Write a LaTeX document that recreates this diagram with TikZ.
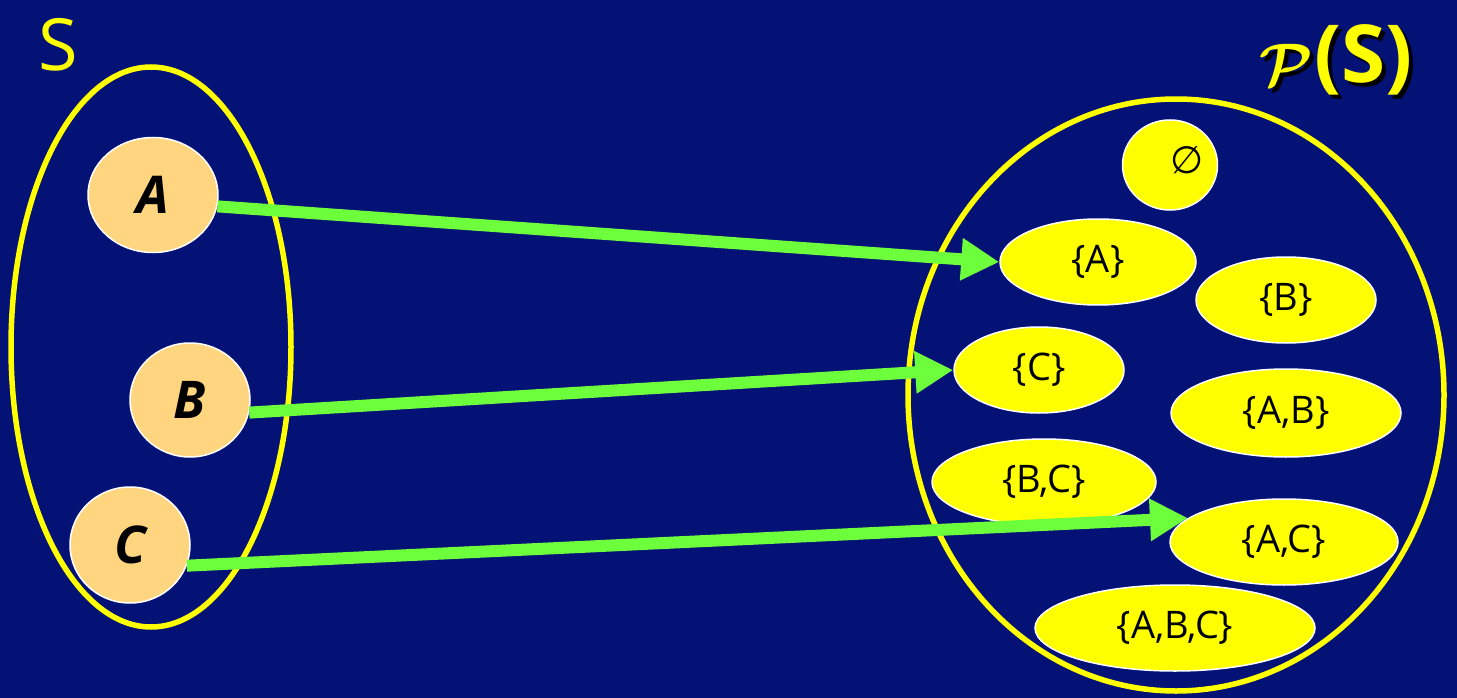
\documentclass[tikz,border=0pt]{standalone}
\usepackage{amsmath}
\usepackage{graphicx}
\usepackage{fontspec}
\newfontfamily\comic{Open Sans}
\newfontfamily\dejavu{DejaVu Sans}
\usetikzlibrary{shapes.geometric,arrows.meta}
\definecolor{bg}{RGB}{4,18,118}
\definecolor{ylw}{RGB}{255,255,0}
\definecolor{elemfill}{RGB}{255,213,128}
\definecolor{grn}{RGB}{110,255,60}
\newcommand{\powset}{\raisebox{-3pt}{\scalebox{6}{$\boldsymbol{\mathcal{P}}$}}\kern1pt{\comic\bfseries\fontsize{80}{84}\selectfont(S)}}
\begin{document}
\begin{tikzpicture}[x=1pt,y=-1pt,
  outer/.style={ellipse, draw=ylw, line width=5.5pt, inner sep=0pt},
  elem/.style={ellipse, draw=white, line width=1.5pt, fill=elemfill, inner sep=0pt,
    font=\comic\fontsize{52}{56}\selectfont\bfseries\itshape},
  subset/.style={ellipse, draw=white, line width=1.5pt, fill=ylw, inner sep=0pt,
    font=\comic\fontsize{38}{40}\selectfont},
  mapsto/.style={draw=grn, line width=12pt, -{Triangle[length=38pt,width=40pt]}},
  label/.style={text=ylw, inner sep=0pt}]
\fill[bg] (0,0) rectangle (1457,698);
\useasboundingbox (0,0) rectangle (1457,698);

% labels
\node[label, font=\comic\fontsize{72}{74}\selectfont] (Slabel) at (58,45) {S};
\node[text=black, inner sep=0pt] (PSshadow) at (1340,64) {\powset};
\node[label] (PS) at (1336,60) {\powset};

% sets
\node[outer, minimum width=280pt, minimum height=560pt] (Sset) at (151,347) {};
\node[outer, minimum width=536pt, minimum height=592pt] (Pset) at (1176,395) {};

% elements
\node[elem, minimum width=130pt, minimum height=115pt] (A) at (153,195) {A};
\node[elem, minimum width=120pt, minimum height=114pt] (B) at (190,400) {B};
\node[elem, minimum width=120pt, minimum height=116pt] (C) at (130,545) {C};

% subsets
\node[subset, minimum width=95pt, minimum height=90pt] (empty) at (1170,165) {};
\node[inner sep=0pt, font=\dejavu\fontsize{38}{40}\selectfont] (emptysym) at (1187,160) {∅};
\node[subset, minimum width=196pt, minimum height=86pt] (sA) at (1098,262) {\{A\}};
\node[subset, minimum width=180pt, minimum height=86pt] (sB) at (1286,300) {\{B\}};
\node[subset, minimum width=170pt, minimum height=86pt] (sC) at (1039,370) {\{C\}};
\node[subset, minimum width=230pt, minimum height=88pt] (sAB) at (1286,413) {\{A,B\}};
\node[subset, minimum width=224pt, minimum height=86pt] (sBC) at (1044,482) {\{B,C\}};
\node[subset, minimum width=228pt, minimum height=86pt] (sAC) at (1284,542) {\{A,C\}};
\node[subset, minimum width=280pt, minimum height=86pt] (sABC) at (1175,628) {\{A,B,C\}};

% mappings
\draw[mapsto] (A.-10) -- (sA.west);
\draw[mapsto] (B.-12) -- (sC.west);
\draw[mapsto] (C.-20) -- (sAC.166);
\end{tikzpicture}
\end{document}
